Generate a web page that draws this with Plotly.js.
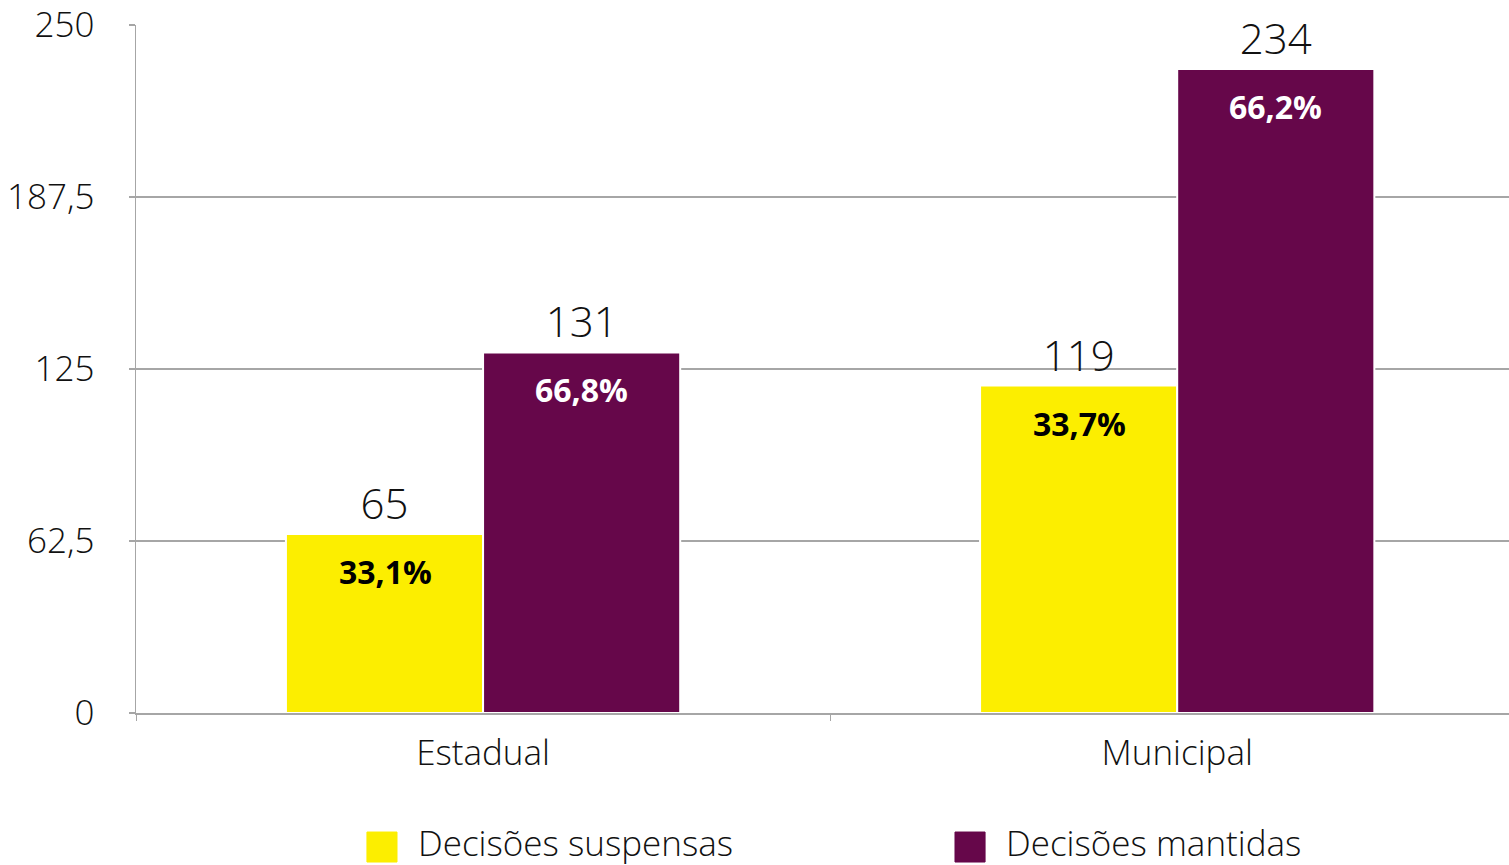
<!DOCTYPE html>
<html>
<head>
<meta charset="utf-8">
<script src="https://cdn.plot.ly/plotly-3.0.1.min.js"></script>
<style>
  html, body { margin: 0; padding: 0; background: #ffffff; }
  #chart { width: 1509px; height: 865px; }
</style>
</head>
<body>
<div id="chart"></div>
<script>
// ---- data ----
const categories = ["Estadual", "Municipal"];
const seriesNames = ["Decisões suspensas", "Decisões mantidas"];
const suspensas = [65, 119];
const mantidas = [131, 234];
const suspensasPct = ["33,1%", "33,7%"];
const mantidasPct = ["66,8%", "66,2%"];
const yTickVals = [0, 62.5, 125, 187.5, 250];
const yTickText = ["0", "62,5", "125", "187,5", "250"];

// ---- style ----
const FONT = "'Open Sans', Lato, sans-serif";
const YELLOW = "#FCEE00";
const PURPLE = "#66074A";
const GRID = "#a6a6a6";
const BARW = 0.284;

const traces = [
  {
    type: "bar", name: seriesNames[0], x: categories, y: suspensas,
    offset: -BARW, width: BARW,
    marker: { color: YELLOW, line: { color: "#ffffff", width: 2 } },
    text: suspensas.map(String), textposition: "outside", cliponaxis: false,
    textfont: { family: FONT, size: 42, color: "#111111", weight: 300 },
    showlegend: false, hoverinfo: "x+y"
  },
  {
    type: "bar", name: seriesNames[1], x: categories, y: mantidas,
    offset: 0, width: BARW,
    marker: { color: PURPLE, line: { color: "#ffffff", width: 2 } },
    text: mantidas.map(String), textposition: "outside", cliponaxis: false,
    textfont: { family: FONT, size: 42, color: "#111111", weight: 300 },
    showlegend: false, hoverinfo: "x+y"
  }
];

// percentage labels inside bars
const annotations = [];
categories.forEach((c, i) => {
  annotations.push({
    x: c, y: suspensas[i], xref: "x", yref: "y", xshift: -98, yshift: -14,
    yanchor: "top", xanchor: "center", showarrow: false, text: "<b>" + suspensasPct[i] + "</b>",
    font: { family: FONT, size: 32, color: "#000000", weight: 800 }
  });
  annotations.push({
    x: c, y: mantidas[i], xref: "x", yref: "y", xshift: 98, yshift: -14,
    yanchor: "top", xanchor: "center", showarrow: false, text: "<b>" + mantidasPct[i] + "</b>",
    font: { family: FONT, size: 32, color: "#ffffff", weight: 800 }
  });
});

// custom legend (large square swatches)
const legendColors = [YELLOW, PURPLE];
const legendX = [0.1682, 0.5965];
const shapes = [];
seriesNames.forEach((n, i) => {
  shapes.push({
    type: "rect", xref: "paper", yref: "paper",
    x0: legendX[i], x1: legendX[i] + 0.0219, y0: -0.173, y1: -0.2166,
    fillcolor: legendColors[i], line: { color: legendColors[i], width: 1 }
  });
  annotations.push({
    xref: "paper", yref: "paper", x: legendX[i] + 0.036, y: -0.188,
    xanchor: "left", yanchor: "middle", showarrow: false, text: n,
    font: { family: FONT, size: 35, color: "#111111", weight: 300 }
  });
});

const layout = {
  width: 1509, height: 865,
  margin: { l: 136, r: 0, t: 25, b: 152 },
  paper_bgcolor: "#ffffff", plot_bgcolor: "#ffffff",
  barmode: "overlay",
  showlegend: false,
  font: { family: FONT, color: "#111111", weight: 300 },
  xaxis: {
    type: "category", range: [-0.5, 1.478],
    showgrid: false, showline: true, linecolor: GRID, linewidth: 1.5,
    ticks: "outside", tickson: "boundaries", ticklen: 6, tickcolor: GRID, tickwidth: 1,
    ticklabelstandoff: 8,
    tickfont: { family: FONT, size: 35, color: "#111111", weight: 300 },
    zeroline: false, fixedrange: true
  },
  yaxis: {
    range: [0, 250], tickvals: yTickVals, ticktext: yTickText,
    showgrid: true, gridcolor: GRID, gridwidth: 1.5,
    showline: true, linecolor: GRID, linewidth: 1.5,
    ticks: "outside", ticklen: 6, tickcolor: GRID, tickwidth: 1.5,
    ticklabelstandoff: 27,
    tickfont: { family: FONT, size: 35, color: "#111111", weight: 300 },
    zeroline: false, fixedrange: true
  },
  annotations: annotations,
  shapes: shapes
};

Plotly.newPlot("chart", traces, layout, { displayModeBar: false, staticPlot: true });
</script>
</body>
</html>
